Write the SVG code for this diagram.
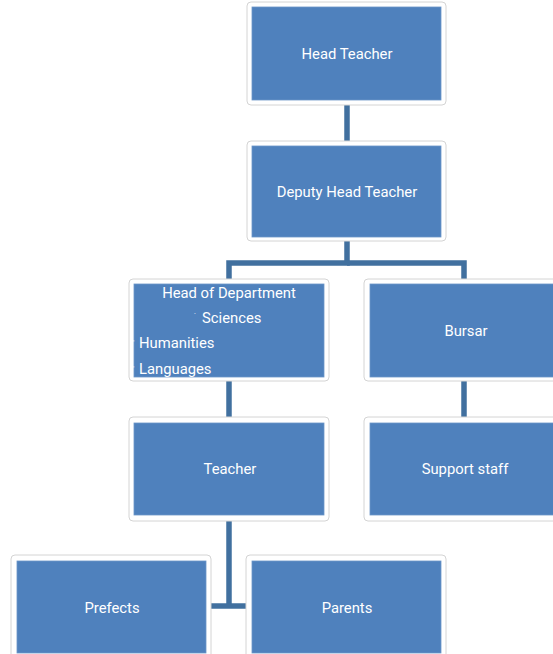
<svg xmlns="http://www.w3.org/2000/svg" width="553" height="654" viewBox="0 0 553 654">
<style>
.outer{fill:#ffffff;stroke:#d4d4d4;stroke-width:1}
.inner{fill:#4f81bd;stroke:#6b96c9;stroke-width:0.8}
.t{font-family:Roboto,"Liberation Sans",sans-serif;font-size:14.8px;fill:#ffffff;text-anchor:middle}
.ts{font-family:Roboto,"Liberation Sans",sans-serif;font-size:14.8px;fill:#ffffff}
.m{font-family:Roboto,"Liberation Sans",sans-serif;font-size:7px;fill:#ffffff}
.c{fill:none;stroke:#41709f;stroke-width:5.5}
</style>
<rect width="553" height="654" fill="#ffffff"/>
<g id="connectors">
<line class="c" x1="347" y1="105" x2="347" y2="141"/>
<polyline class="c" points="347,241 347,263 229,263 229,280"/>
<polyline class="c" points="347,263 464,263 464,280"/>
<line class="c" x1="229" y1="381" x2="229" y2="418"/>
<line class="c" x1="464" y1="381" x2="464" y2="418"/>
<line class="c" x1="229" y1="520" x2="229" y2="608"/>
<line class="c" x1="211" y1="606" x2="247" y2="606"/>
</g>
<g id="head-teacher">
<rect class="outer" x="247" y="2" width="199" height="103" rx="4"/>
<rect class="inner" x="252" y="7" width="189" height="93"/>
<text class="t" x="347" y="59">Head Teacher</text>
</g>
<g id="deputy-head-teacher">
<rect class="outer" x="247" y="141" width="199" height="100" rx="4"/>
<rect class="inner" x="252" y="146" width="189" height="91"/>
<text class="t" x="347" y="197">Deputy Head Teacher</text>
</g>
<g id="head-of-department">
<rect class="outer" x="129" y="279" width="200" height="102" rx="4"/>
<rect class="inner" x="134" y="284" width="190" height="93"/>
<text class="t" x="229" y="298">Head of Department</text>
<text class="m" x="194" y="316">·</text>
<text class="ts" x="202" y="323">Sciences</text>
<text class="m" x="133" y="345">'</text>
<text class="ts" x="139" y="348">Humanities</text>
<text class="m" x="133" y="371">'</text>
<text class="ts" x="139" y="374">Languages</text>
</g>
<g id="bursar">
<rect class="outer" x="364" y="279" width="195" height="102" rx="4"/>
<rect class="inner" x="370" y="284" width="190" height="93"/>
<text class="t" x="466" y="336">Bursar</text>
</g>
<g id="teacher">
<rect class="outer" x="129" y="417" width="200" height="104" rx="4"/>
<rect class="inner" x="134" y="423" width="190" height="92"/>
<text class="t" x="230" y="474">Teacher</text>
</g>
<g id="support-staff">
<rect class="outer" x="364" y="417" width="195" height="104" rx="4"/>
<rect class="inner" x="370" y="423" width="190" height="92"/>
<text class="t" x="465" y="474">Support staff</text>
</g>
<g id="prefects">
<rect class="outer" x="11" y="555" width="200" height="104" rx="4"/>
<rect class="inner" x="17" y="561" width="189" height="92"/>
<text class="t" x="112" y="613">Prefects</text>
</g>
<g id="parents">
<rect class="outer" x="246" y="555" width="200" height="104" rx="4"/>
<rect class="inner" x="252" y="561" width="189" height="92"/>
<text class="t" x="347" y="613">Parents</text>
</g>
</svg>
